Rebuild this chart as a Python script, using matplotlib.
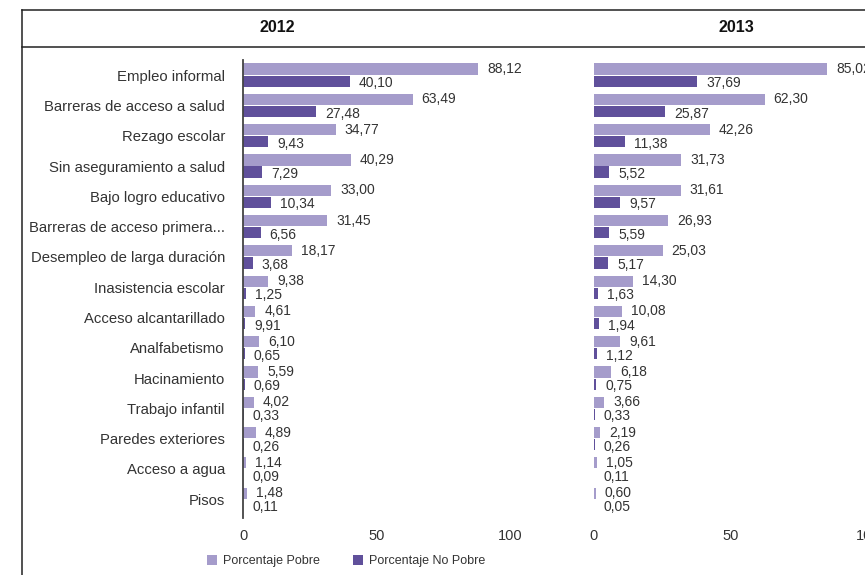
import matplotlib
matplotlib.use("Agg")
import matplotlib.pyplot as plt
from matplotlib.lines import Line2D
from matplotlib.patches import Patch

plt.rcParams["font.family"] = ["Liberation Sans", "DejaVu Sans"]

CATEGORIES = [
    "Empleo informal",
    "Barreras de acceso a salud",
    "Rezago escolar",
    "Sin aseguramiento a salud",
    "Bajo logro educativo",
    "Barreras de acceso primera...",
    "Desempleo de larga duración",
    "Inasistencia escolar",
    "Acceso alcantarillado",
    "Analfabetismo",
    "Hacinamiento",
    "Trabajo infantil",
    "Paredes exteriores",
    "Acceso a agua",
    "Pisos",
]

POBRE_2012 = [88.12, 63.49, 34.77, 40.29, 33.00, 31.45, 18.17, 9.38, 4.61, 6.10, 5.59, 4.02, 4.89, 1.14, 1.48]
NO_POBRE_2012 = [40.10, 27.48, 9.43, 7.29, 10.34, 6.56, 3.68, 1.25, 0.91, 0.65, 0.69, 0.33, 0.26, 0.09, 0.11]
POBRE_2013 = [85.02, 62.30, 42.26, 31.73, 31.61, 26.93, 25.03, 14.30, 10.08, 9.61, 6.18, 3.66, 2.19, 1.05, 0.60]
NO_POBRE_2013 = [37.69, 25.87, 11.38, 5.52, 9.57, 5.59, 5.17, 1.63, 1.94, 1.12, 0.75, 0.33, 0.26, 0.11, 0.05]

# the source prints "9,91" next to a bar that is clearly below 1
LABEL_OVERRIDES = {("2012", "no_pobre", 8): "9,91"}

YEARS = ["2012", "2013"]
SERIES_NAMES = ["Porcentaje Pobre", "Porcentaje No Pobre"]
X_TICKS = [0, 50, 100]

LIGHT = "#a59ccb"
DARK = "#60509b"
TEXT = "#333333"

W, H = 865, 575
fig = plt.figure(figsize=(W / 100, H / 100), dpi=100)


def px(x, y):
    return x / W, 1 - y / H


def fmt(v):
    return f"{v:.2f}".replace(".", ",")


def draw_panel(ax, year, pobre, no_pobre, show_labels):
    n = len(CATEGORIES)
    ys = list(range(n))
    off, h = 0.2, 0.37
    ax.barh([y - off for y in ys], pobre, height=h, color=LIGHT, linewidth=0)
    ax.barh([y + off for y in ys], no_pobre, height=h, color=DARK, linewidth=0)

    for i in ys:
        ax.annotate(fmt(pobre[i]), (pobre[i], i - off), xytext=(6.5, 0),
                    textcoords="offset points", ha="left", va="center",
                    fontsize=10, color=TEXT, annotation_clip=False)
        lab = LABEL_OVERRIDES.get((year, "no_pobre", i), fmt(no_pobre[i]))
        ax.annotate(lab, (no_pobre[i], i + off), xytext=(6.5, -1.5),
                    textcoords="offset points", ha="left", va="center",
                    fontsize=10, color=TEXT, annotation_clip=False)

    ax.set_xlim(0, 100)
    ax.set_ylim(14.62, -0.5)
    ax.set_xticks(X_TICKS)
    ax.tick_params(axis="x", length=0, pad=8, labelsize=10.5, labelcolor=TEXT)
    ax.set_yticks(ys)
    if show_labels:
        ax.set_yticklabels(CATEGORIES)
        ax.tick_params(axis="y", length=0, pad=13, labelsize=10.7, labelcolor=TEXT)
    else:
        ax.set_yticklabels([])
        ax.tick_params(axis="y", length=0)
    for side in ["top", "right", "bottom"]:
        ax.spines[side].set_visible(False)
    if show_labels:
        ax.spines["left"].set_color("#444444")
        ax.spines["left"].set_linewidth(1.3)
    else:
        ax.spines["left"].set_visible(False)
    ax.set_facecolor("none")


bottom = (H - 518) / H
height = 458 / H
ax1 = fig.add_axes([243 / W, bottom, 267 / W, height])
ax2 = fig.add_axes([594 / W, bottom, 274 / W, height])
draw_panel(ax1, "2012", POBRE_2012, NO_POBRE_2012, True)
draw_panel(ax2, "2013", POBRE_2013, NO_POBRE_2013, False)

# header frame
lc = "#222222"
x0, y0 = px(22, 10)
_, ysep = px(22, 47)
fig.add_artist(Line2D([x0, x0], [0, y0], transform=fig.transFigure, color=lc, lw=1.1))
fig.add_artist(Line2D([x0, 1], [y0, y0], transform=fig.transFigure, color=lc, lw=1.1))
fig.add_artist(Line2D([x0, 1], [ysep, ysep], transform=fig.transFigure, color=lc, lw=1.1))

for year, cx in zip(YEARS, [277, 736]):
    fx, fy = px(cx, 28)
    fig.text(fx, fy, year, ha="center", va="center", fontsize=11.5,
             fontweight="bold", color="#111111")

handles = [Patch(facecolor=LIGHT, edgecolor="none"), Patch(facecolor=DARK, edgecolor="none")]
lx, ly = px(346, 561)
fig.legend(handles, SERIES_NAMES, loc="center", bbox_to_anchor=(lx, ly), ncol=2,
           frameon=False, fontsize=9, handlelength=0.8, handleheight=0.8,
           handletextpad=0.5, columnspacing=2.6, labelcolor=TEXT)

fig.savefig("out.png", dpi=100)
